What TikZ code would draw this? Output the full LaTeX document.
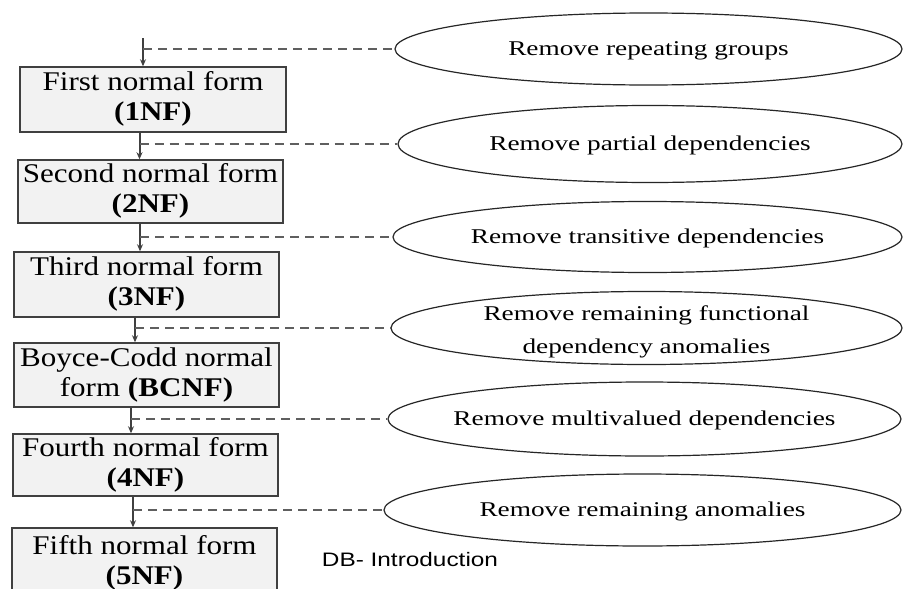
\documentclass[tikz,border=0pt]{standalone}
\usepackage{fontspec}
\usepackage{graphicx}
\setmainfont{Liberation Serif}
\newfontfamily\arialfont{Liberation Sans}
\usetikzlibrary{arrows.meta,shapes.geometric}
\definecolor{boxfill}{HTML}{F2F2F2}
\definecolor{boxline}{HTML}{404040}
\definecolor{arrline}{HTML}{404040}
\definecolor{dashline}{HTML}{5F5F5F}
\newcommand{\bt}[2]{\scalebox{1.15}[1]{\fontsize{27}{30}\selectfont\begin{tabular}{@{}c@{}}#1\\#2\end{tabular}}}
\newcommand{\et}[1]{\scalebox{1.3}[1]{\fontsize{21}{33}\selectfont\begin{tabular}{@{}c@{}}#1\end{tabular}}}
\tikzset{
  nf/.style={draw=boxline, fill=boxfill, line width=1.5pt, minimum width=265pt, inner sep=0pt, align=center},
  ell/.style={ellipse, draw=black!85, line width=1.2pt, fill=white, inner sep=0pt},
  etxt/.style={inner sep=0pt},
  arr/.style={draw=arrline, line width=2pt, -{Stealth[length=7pt,width=6pt]}},
  dsh/.style={draw=dashline, line width=2.5pt, dash pattern=on 9pt off 6pt}
}
\begin{document}
\begin{tikzpicture}[x=1pt,y=-1pt]
\useasboundingbox (0,0) rectangle (903,589);
\clip (0,0) rectangle (903,589);
\fill[white] (0,0) rectangle (903,589);

% boxes
\node[nf, minimum width=266pt, minimum height=65pt] (b1) at (153,99.5) {\bt{First normal form}{\textbf{(1NF)}}};
\node[nf, minimum height=63pt] (b2) at (150.5,191.5) {\bt{Second normal form}{\textbf{(2NF)}}};
\node[nf, minimum height=65pt] (b3) at (146.5,284.5) {\bt{Third normal form}{\textbf{(3NF)}}};
\node[nf, minimum height=64pt] (b4) at (146.5,375) {\bt{Boyce-Codd normal}{form \textbf{(BCNF)}}};
\node[nf, minimum height=62pt] (b5) at (145.5,465) {\bt{Fourth normal form}{\textbf{(4NF)}}};
\node[nf, minimum height=70pt] (b6) at (144.5,563) {\bt{Fifth normal form}{\textbf{(5NF)}}};

% ellipses
\node[ell, minimum width=507pt, minimum height=72pt] (e1) at (648.5,49) {};
\node[ell, minimum width=504pt, minimum height=77pt] (e2) at (650,144) {};
\node[ell, minimum width=509pt, minimum height=71pt] (e3) at (647.5,237) {};
\node[ell, minimum width=511pt, minimum height=73pt] (e4) at (646.5,328) {};
\node[ell, minimum width=513pt, minimum height=74pt] (e5) at (644.5,419) {};
\node[ell, minimum width=517pt, minimum height=72pt] (e6) at (642.5,510) {};

\node[etxt] (t1) at (e1) {\et{Remove repeating groups}};
\node[etxt] (t2) at (e2) {\et{Remove partial dependencies}};
\node[etxt] (t3) at (e3) {\et{Remove transitive dependencies}};
\node[etxt] (t4) at ([yshift=-2pt]e4.center) {\et{Remove remaining functional\\dependency anomalies}};
\node[etxt] (t5) at (e5) {\et{Remove multivalued dependencies}};
\node[etxt] (t6) at (e6) {\et{Remove remaining anomalies}};

% arrow columns
\coordinate (x1) at (143,0);
\coordinate (x2) at (139.5,0);
\coordinate (x3) at (140,0);
\coordinate (x4) at (135,0);
\coordinate (x5) at (131,0);
\coordinate (x6) at (133,0);
\coordinate (top) at (143,38);

\draw[arr] (top) -- (b1.north -| x1);
\draw[arr] (b1.south -| x2) -- (b2.north -| x2);
\draw[arr] (b2.south -| x3) -- (b3.north -| x3);
\draw[arr] (b3.south -| x4) -- (b4.north -| x4);
\draw[arr] (b4.south -| x5) -- (b5.north -| x5);
\draw[arr] (b5.south -| x6) -- (b6.north -| x6);

% dashed connectors
\draw[dsh] (x1 |- e1.west) -- (e1.west);
\draw[dsh] (x2 |- e2.west) -- (e2.west);
\draw[dsh] (x3 |- e3.west) -- (e3.west);
\draw[dsh] (x4 |- e4.west) -- (e4.west);
\draw[dsh] (x5 |- e5.west) -- (e5.west);
\draw[dsh] (x6 |- e6.west) -- (e6.west);

% footer
\node[inner sep=0pt, font=\arialfont\fontsize{19.5}{22}\selectfont] (foot) at (410,560) {\scalebox{1.25}[1]{DB- Introduction}};
\end{tikzpicture}
\end{document}
